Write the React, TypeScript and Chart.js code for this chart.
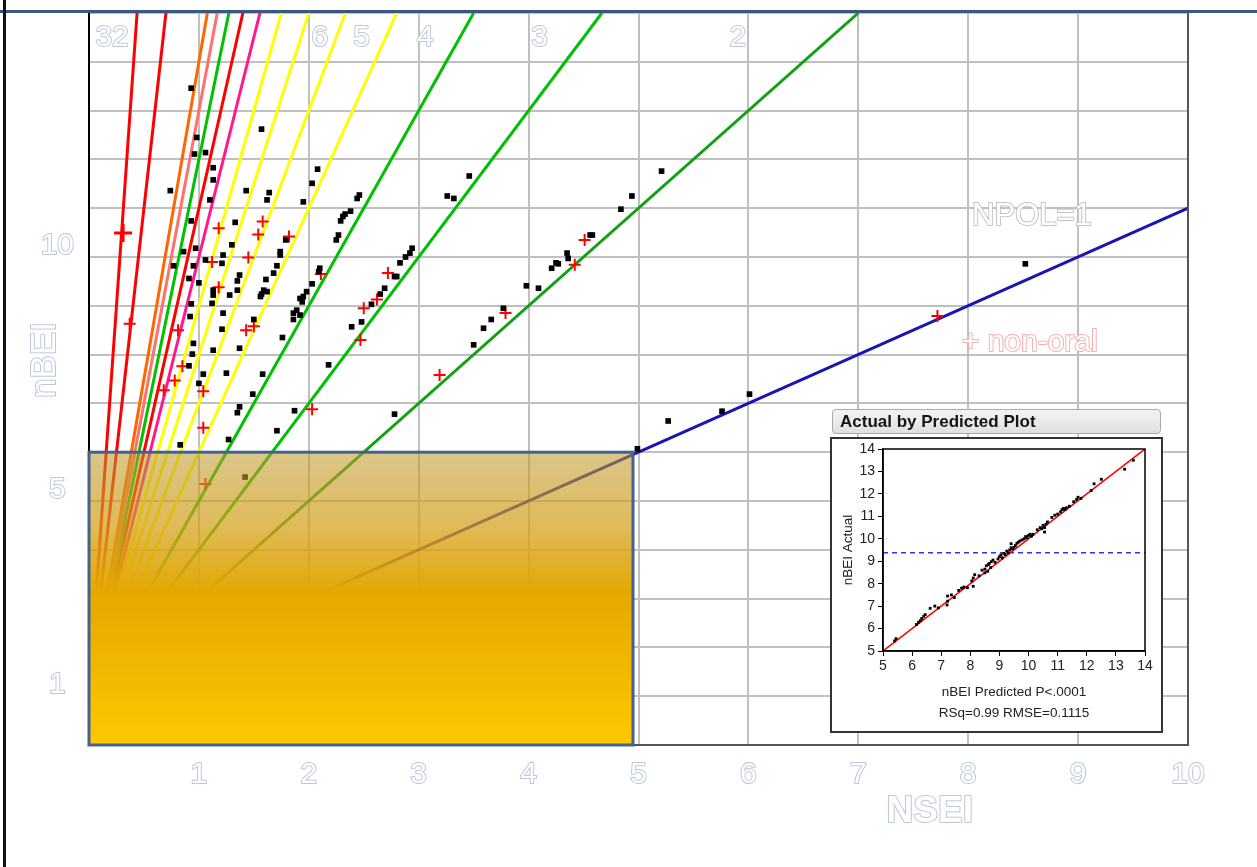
import React, { useEffect, useRef } from 'react';
import { Chart, registerables } from 'chart.js';

Chart.register(...registerables);

const FONT = "'Liberation Sans', Arial, sans-serif";

// ---- main chart axes ----
const X_TICK_LABELS = [1, 2, 3, 4, 5, 6, 7, 8, 9, 10];
const Y_TICK_LABELS = [1, 5, 10, 15];

// ---- NPOL reference lines: nBEI = NPOL * NSEI + intercept ----
const NPOL_VALUES = [32, 20, 13, 12, 11, 10, 9, 8, 7, 6, 5, 4, 3, 2, 1];
const NPOL_COLORS = [
  '#ff0000', '#ff0000', '#ff6600', '#ff7070', '#00c000', '#ff0000', '#ff1a8c',
  '#ffff00', '#ffff00', '#ffff00', '#ffff00', '#00c000', '#00c000', '#13a013', '#1c14b0',
];
const LINE_INTERCEPT = 1;
const NPOL_TEXT_LABELS = ['32', '6', '5', '4', '3', '2'];

// ---- scatter data: [NSEI, nBEI] ----
const ORAL_POINTS: [number, number][] = [
  [0.93, 13.46], [1.57, 12.62], [0.98, 12.45], [0.96, 12.11], [1.06, 12.14], [1.13, 11.83], [1.13, 11.58],
  [2.08, 11.8], [0.74, 11.36], [1.43, 11.36], [1.64, 11.32], [1.62, 11.17], [2.03, 11.51], [1.1, 11.17],
  [1.95, 11.13], [2.31, 10.83], [2.29, 10.74], [0.93, 10.74], [1.33, 10.71], [1.79, 10.35], [2.27, 10.45],
  [2.25, 10.35], [1.3, 10.25], [0.86, 10.11], [0.97, 10.18], [1.22, 10.04], [1.74, 10.11], [1.74, 10.04],
  [1.06, 9.94], [0.77, 9.82], [0.95, 9.82], [1.71, 9.82], [1.37, 9.63], [1.35, 9.51], [1.68, 9.67],
  [1.61, 9.54], [2.1, 9.77], [2.09, 9.7], [1.0, 9.47], [0.91, 9.56], [1.13, 9.32], [1.13, 9.22],
  [1.12, 9.05], [1.28, 9.22], [1.35, 9.32], [1.59, 9.32], [1.57, 9.24], [1.56, 9.19], [1.62, 9.29],
  [2.03, 9.45], [1.98, 9.29], [1.95, 9.19], [1.92, 9.15], [1.94, 9.08], [0.93, 9.04], [1.22, 8.85],
  [1.89, 8.91], [1.86, 8.85], [1.92, 8.81], [1.86, 8.72], [0.92, 8.78], [1.5, 8.72], [2.39, 8.57],
  [2.48, 8.67], [1.21, 8.52], [0.95, 8.23], [1.76, 8.35], [1.37, 8.13], [1.13, 8.09], [0.94, 8.01],
  [2.18, 7.79], [0.91, 7.77], [1.04, 7.6], [1.25, 7.62], [1.58, 7.6], [1.0, 7.41], [1.49, 7.19],
  [1.37, 6.93], [1.35, 6.81], [1.87, 6.85], [1.71, 6.44], [1.27, 6.26], [0.83, 6.15], [2.46, 11.27],
  [2.44, 11.2], [2.38, 10.94], [2.33, 10.88], [1.21, 9.87], [2.57, 9.03], [2.65, 9.24], [2.69, 9.36],
  [2.78, 9.6], [2.8, 9.6], [2.83, 9.88], [2.88, 10.0], [2.92, 10.08], [2.94, 10.18], [3.26, 11.25],
  [3.32, 11.2], [3.46, 11.66], [2.78, 6.78], [3.5, 8.2], [3.59, 8.54], [3.66, 8.72], [3.77, 8.95],
  [3.98, 9.41], [4.09, 9.36], [4.21, 9.77], [4.25, 9.88], [4.27, 9.86], [4.35, 10.08], [4.36, 9.97],
  [4.56, 10.45], [4.58, 10.45], [4.84, 10.98], [4.94, 11.25], [5.21, 11.76], [4.99, 6.07], [5.27, 6.64],
  [5.76, 6.84], [6.01, 7.19], [8.52, 9.86], [1.42, 5.49],
];
const NON_ORAL_POINTS: [number, number][] = [
  [0.37, 8.63], [1.18, 10.59], [1.58, 10.73], [1.54, 10.46], [1.82, 10.42], [1.45, 9.99], [1.12, 9.9],
  [2.11, 9.65], [1.18, 9.38], [1.43, 8.5], [1.5, 8.58], [0.81, 8.5], [0.85, 7.76], [0.78, 7.47],
  [0.68, 7.27], [1.04, 7.25], [1.04, 6.5], [2.03, 6.88], [2.47, 8.3], [2.5, 8.95], [2.62, 9.13],
  [2.72, 9.67], [3.19, 7.58], [3.79, 8.85], [4.42, 9.84], [4.51, 10.35], [7.72, 8.79], [1.06, 5.35],
];
const NON_ORAL_HIGHLIGHT: [number, number][] = [[0.31, 10.49]];

// highlighted region (NSEI, nBEI upper corner)
const BOX_NSEI = 4.95;
const BOX_NBEI = 6;

// ---- inset: Actual by Predicted ----
const INSET_MIN = 5;
const INSET_MAX = 14;
const FIT_MEAN = 9.38;
const FIT_POINTS: [number, number][] = [
  [5.4, 5.45], [5.45, 5.55], [6.15, 6.18], [6.22, 6.28], [6.28, 6.35], [6.33, 6.45], [6.4, 6.55],
  [6.45, 6.62], [6.62, 6.9], [6.78, 7.0], [6.9, 6.92], [7.2, 7.05], [7.22, 7.22], [7.22, 7.45],
  [7.35, 7.5], [7.45, 7.38], [7.6, 7.7], [7.7, 7.8], [7.78, 7.85], [7.9, 7.82], [8.05, 8.12],
  [8.1, 8.25], [8.15, 8.4], [8.1, 7.88], [8.3, 8.35], [8.4, 8.6], [8.5, 8.65], [8.55, 8.8],
  [8.6, 8.55], [8.65, 8.9], [8.7, 8.72], [8.72, 8.98], [8.78, 9.05], [8.62, 8.85], [8.5, 8.48],
  [8.85, 8.95], [8.95, 9.1], [9.0, 9.2], [9.05, 9.28], [9.1, 9.15], [9.15, 9.35], [9.2, 9.3],
  [9.25, 9.45], [9.3, 9.38], [9.35, 9.5], [9.4, 9.6], [9.45, 9.55], [9.4, 9.78], [9.5, 9.62],
  [9.55, 9.7], [9.6, 9.8], [9.65, 9.85], [9.7, 9.9], [9.78, 9.95], [9.85, 10.0], [9.9, 10.1],
  [9.95, 10.05], [10.0, 10.15], [10.05, 10.2], [10.1, 10.12], [10.15, 10.2], [10.3, 10.4],
  [10.4, 10.5], [10.45, 10.45], [10.5, 10.6], [10.55, 10.5], [10.6, 10.65], [10.55, 10.3],
  [10.65, 10.75], [10.8, 10.95], [10.9, 11.05], [11.0, 11.1], [11.1, 11.2], [11.15, 11.3],
  [11.2, 11.35], [11.3, 11.38], [11.25, 11.3], [11.4, 11.45], [11.55, 11.65], [11.65, 11.75],
  [11.7, 11.85], [11.8, 11.8], [12.15, 12.15], [12.25, 12.45], [12.5, 12.65], [13.3, 13.1], [13.6, 13.5],
];

function hollowText(ctx: CanvasRenderingContext2D, text: string, x: number, y: number, font: string, stroke: string) {
  ctx.font = font;
  ctx.textAlign = 'center';
  ctx.textBaseline = 'middle';
  ctx.lineWidth = 2;
  ctx.lineJoin = 'round';
  ctx.strokeStyle = stroke;
  ctx.strokeText(text, x, y);
  ctx.fillStyle = '#ffffff';
  ctx.fillText(text, x, y);
}

const OUTLINE = '#bcc6dc';

const mainOverlay = {
  id: 'mainOverlay',
  afterDatasetsDraw(chart: any) {
    const { ctx, chartArea } = chart;
    const xs = chart.scales.x;
    const ys = chart.scales.y;
    ctx.save();
    // right border
    ctx.strokeStyle = '#555555';
    ctx.lineWidth = 2;
    ctx.beginPath();
    ctx.moveTo(chartArea.right, chartArea.top);
    ctx.lineTo(chartArea.right, chartArea.bottom);
    ctx.stroke();

    // highlighted box
    const bx0 = xs.getPixelForValue(0);
    const bx1 = xs.getPixelForValue(BOX_NSEI);
    const by0 = ys.getPixelForValue(BOX_NBEI);
    const by1 = ys.getPixelForValue(0);
    const g = ctx.createLinearGradient(0, by0, 0, by1);
    g.addColorStop(0, 'rgba(190,150,40,0.55)');
    g.addColorStop(0.25, 'rgba(212,160,25,0.72)');
    g.addColorStop(0.48, 'rgba(229,168,0,1)');
    g.addColorStop(1, 'rgba(253,200,0,1)');
    ctx.fillStyle = g;
    ctx.fillRect(bx0, by0, bx1 - bx0, by1 - by0);
    ctx.strokeStyle = '#43628d';
    ctx.lineWidth = 3;
    ctx.strokeRect(bx0, by0, bx1 - bx0, by1 - by0);

    // NPOL labels near the top
    const labelX = [0.21, 2.1, 2.48, 3.06, 4.1, 5.905];
    NPOL_TEXT_LABELS.forEach((t, i) => {
      hollowText(ctx, t, xs.getPixelForValue(labelX[i]), ys.getPixelForValue(14.49), `30px ${FONT}`, OUTLINE);
    });
    hollowText(ctx, 'NPOL=1', xs.getPixelForValue(8.58), ys.getPixelForValue(10.84), `31px ${FONT}`, '#c4c4c4');
    hollowText(ctx, '+ non-oral', xs.getPixelForValue(8.56), ys.getPixelForValue(8.24), `30px ${FONT}`, '#f5b0b0');

    // axis titles
    hollowText(ctx, 'NSEI', xs.getPixelForValue(7.65), chartArea.bottom + 67, `bold 37px ${FONT}`, OUTLINE);
    ctx.save();
    ctx.translate(45, ys.getPixelForValue(7.89));
    ctx.rotate(-Math.PI / 2);
    hollowText(ctx, 'nBEI', 0, 0, `35px ${FONT}`, OUTLINE);
    ctx.restore();
    ctx.restore();
  },
  afterDraw(chart: any) {
    const { ctx, width, height } = chart;
    ctx.save();
    ctx.fillStyle = '#ffffff';
    ctx.fillRect(0, 0, width, 10);
    ctx.fillStyle = '#3a5682';
    ctx.fillRect(0, 10, width, 3);
    ctx.fillStyle = '#111111';
    ctx.fillRect(3, 0, 3, height);
    ctx.restore();
  },
};

const insetFrame = {
  id: 'insetFrame',
  beforeDraw(chart: any) {
    const { ctx, width, height } = chart;
    ctx.save();
    ctx.fillStyle = '#ffffff';
    ctx.fillRect(0, 0, width, height);
    ctx.strokeStyle = '#333333';
    ctx.lineWidth = 2;
    ctx.strokeRect(1, 1, width - 2, height - 2);
    ctx.restore();
  },
  afterDatasetsDraw(chart: any) {
    const { ctx, chartArea } = chart;
    ctx.save();
    ctx.strokeStyle = '#000000';
    ctx.lineWidth = 1.5;
    ctx.strokeRect(chartArea.left, chartArea.top, chartArea.right - chartArea.left, chartArea.bottom - chartArea.top);
    ctx.restore();
  },
};

export default function App() {
  const mainRef = useRef<HTMLCanvasElement>(null);
  const insetRef = useRef<HTMLCanvasElement>(null);

  useEffect(() => {
    const hollowTicks = {
      font: { family: FONT, size: 30 },
      color: '#ffffff',
      textStrokeColor: OUTLINE,
      textStrokeWidth: 2,
      autoSkip: false,
      maxRotation: 0,
      stepSize: 1,
    };
    const lineSets = NPOL_VALUES.map((n, i) => {
      const xEnd = Math.min(10, (15 - LINE_INTERCEPT) / n);
      return {
        label: `NPOL=${n}`,
        data: [
          { x: 0, y: LINE_INTERCEPT },
          { x: xEnd, y: LINE_INTERCEPT + n * xEnd },
        ],
        showLine: true,
        borderColor: NPOL_COLORS[i],
        borderWidth: 3,
        pointRadius: 0,
        fill: false,
      };
    });
    const main = new Chart(mainRef.current as HTMLCanvasElement, {
      type: 'scatter',
      data: {
        datasets: [
          {
            label: 'oral',
            data: ORAL_POINTS.map(([x, y]) => ({ x, y })),
            pointStyle: 'rect',
            pointRadius: 4,
            backgroundColor: '#000000',
            borderColor: '#000000',
            borderWidth: 0,
          },
          {
            label: 'non-oral',
            data: NON_ORAL_POINTS.map(([x, y]) => ({ x, y })),
            pointStyle: 'cross',
            pointRadius: 6,
            borderColor: '#ff0000',
            borderWidth: 2,
          },
          {
            label: 'non-oral highlight',
            data: NON_ORAL_HIGHLIGHT.map(([x, y]) => ({ x, y })),
            pointStyle: 'cross',
            pointRadius: 9,
            borderColor: '#ff0000',
            borderWidth: 3,
          },
          ...lineSets,
        ] as any,
      },
      options: {
        animation: false,
        responsive: false,
        maintainAspectRatio: false,
        layout: { padding: { left: 0, top: 13, right: 69, bottom: 0 } },
        plugins: { legend: { display: false }, tooltip: { enabled: false } },
        scales: {
          x: {
            type: 'linear',
            min: 0,
            max: 10,
            afterFit: (s: any) => { s.height = 122; s.paddingLeft = 0; s.paddingRight = 0; },
            ticks: {
              ...hollowTicks,
              padding: 12,
              callback: (v: any) => (X_TICK_LABELS.includes(Number(v)) ? String(v) : ''),
            },
            grid: { color: '#c0c0c0', lineWidth: 2, drawTicks: false },
            border: { color: '#555555', width: 2 },
          },
          y: {
            type: 'linear',
            min: 0,
            max: 15,
            afterFit: (s: any) => { s.width = 89; s.paddingTop = 0; s.paddingBottom = 0; },
            ticks: {
              ...hollowTicks,
              crossAlign: 'center',
              padding: 15,
              labelOffset: -11,
              callback: (v: any) => (Y_TICK_LABELS.includes(Number(v)) ? String(v) : ''),
            },
            grid: { color: '#c0c0c0', lineWidth: 2, drawTicks: false },
            border: { color: '#000000', width: 2 },
          },
        },
      } as any,
      plugins: [mainOverlay],
    });

    const insetTicks = { font: { family: FONT, size: 14 }, color: '#222222', stepSize: 1, autoSkip: false, maxRotation: 0 };
    const inset = new Chart(insetRef.current as HTMLCanvasElement, {
      type: 'scatter',
      data: {
        datasets: [
          {
            label: 'points',
            data: FIT_POINTS.map(([x, y]) => ({ x, y })),
            pointStyle: 'rect',
            pointRadius: 2,
            backgroundColor: '#000000',
            borderWidth: 0,
          },
          {
            label: 'fit',
            data: [{ x: INSET_MIN, y: INSET_MIN }, { x: INSET_MAX, y: INSET_MAX }],
            showLine: true,
            borderColor: '#ff0000',
            borderWidth: 1.5,
            pointRadius: 0,
          },
          {
            label: 'mean',
            data: [{ x: INSET_MIN, y: FIT_MEAN }, { x: INSET_MAX, y: FIT_MEAN }],
            showLine: true,
            borderColor: '#3030ff',
            borderWidth: 1.5,
            borderDash: [5, 4],
            pointRadius: 0,
          },
        ] as any,
      },
      options: {
        animation: false,
        responsive: false,
        maintainAspectRatio: false,
        layout: { padding: { left: 0, top: 12, right: 18, bottom: 0 } },
        plugins: { legend: { display: false }, tooltip: { enabled: false } },
        scales: {
          x: {
            type: 'linear',
            min: INSET_MIN,
            max: INSET_MAX,
            afterFit: (s: any) => { s.height = 82; s.paddingLeft = 0; s.paddingRight = 0; },
            ticks: { ...insetTicks, padding: 2 },
            grid: { drawOnChartArea: false, drawTicks: true, tickLength: 5, color: '#000000' },
            border: { color: '#000000', width: 1.5 },
            title: {
              display: true,
              text: ['nBEI Predicted P<.0001', 'RSq=0.99 RMSE=0.1115'],
              font: { family: FONT, size: 13.5, lineHeight: 1.5 },
              color: '#222222',
              padding: { top: 0, bottom: 10 },
            },
          },
          y: {
            type: 'linear',
            min: INSET_MIN,
            max: INSET_MAX,
            afterFit: (s: any) => { s.width = 53; s.paddingTop = 0; s.paddingBottom = 0; },
            ticks: { ...insetTicks, padding: 3 },
            grid: { drawOnChartArea: false, drawTicks: true, tickLength: 5, color: '#000000' },
            border: { color: '#000000', width: 1.5 },
            title: {
              display: true,
              text: 'nBEI Actual',
              font: { family: FONT, size: 13.5, lineHeight: 1.2 },
              color: '#222222',
              padding: { top: 10, bottom: 0 },
            },
          },
        },
      } as any,
      plugins: [insetFrame],
    });

    return () => {
      main.destroy();
      inset.destroy();
    };
  }, []);

  return (
    <div style={{ position: 'absolute', left: 0, top: 0, width: 1257, height: 867, background: '#ffffff', overflow: 'hidden' }}>
      <canvas ref={mainRef} width={1257} height={867} style={{ position: 'absolute', left: 0, top: 0, width: 1257, height: 867 }} />
      <div
        style={{
          position: 'absolute', left: 832, top: 409, width: 329, height: 25, boxSizing: 'border-box',
          border: '1px solid #a9a9a9', borderRadius: 4, background: 'linear-gradient(#f3f3f3, #e0e0e0)',
          fontFamily: FONT, fontWeight: 'bold', fontSize: 17, color: '#151515', lineHeight: '23px', paddingLeft: 7,
        }}
      >
        Actual by Predicted Plot
      </div>
      <canvas ref={insetRef} width={333} height={296} style={{ position: 'absolute', left: 830, top: 437, width: 333, height: 296 }} />
    </div>
  );
}
